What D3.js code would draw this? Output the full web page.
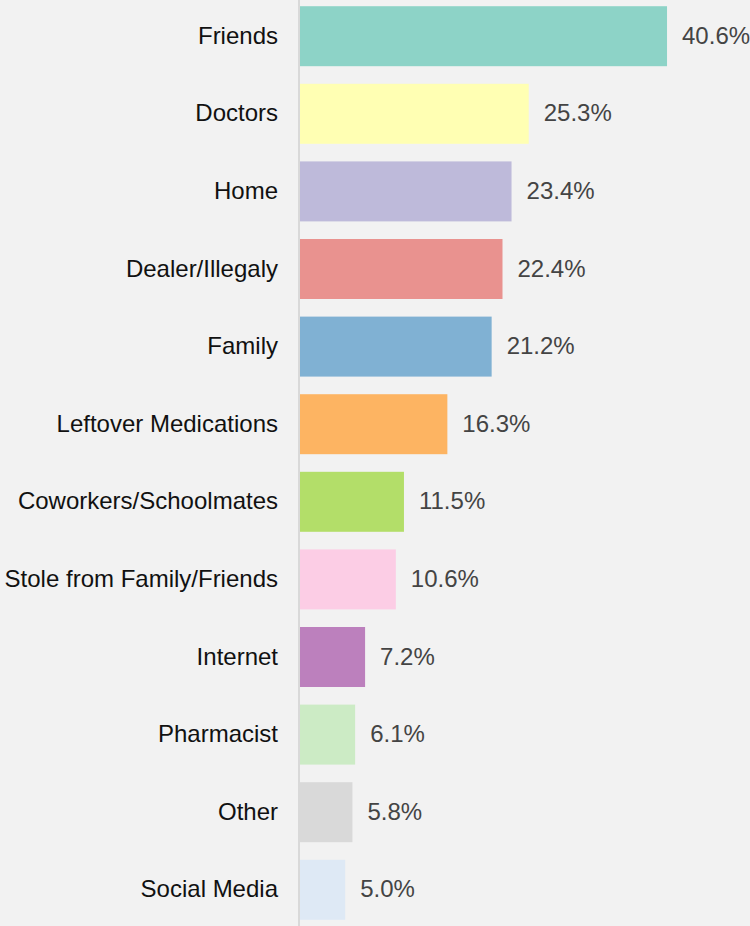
<!DOCTYPE html>
<html>
<head>
<meta charset="utf-8">
<script src="https://cdn.jsdelivr.net/npm/d3@7"></script>
<style>
  html, body { margin: 0; padding: 0; background: #f2f2f2; }
  svg { display: block; }
</style>
</head>
<body>
<svg id="chart"></svg>
<script>
// data
var categories = ["Friends", "Doctors", "Home", "Dealer/Illegaly", "Family", "Leftover Medications",
  "Coworkers/Schoolmates", "Stole from Family/Friends", "Internet", "Pharmacist", "Other", "Social Media"];
var values = [40.6, 25.3, 23.4, 22.4, 21.2, 16.3, 11.5, 10.6, 7.2, 6.1, 5.8, 5.0];
var colors = ["#8dd3c7", "#ffffb3", "#bebada", "#e9928f", "#80b1d3", "#fdb462",
  "#b3de69", "#fccde5", "#bc80bd", "#ccebc5", "#d9d9d9", "#dee9f5"];

const width = 750, height = 926;
const axisX = 300;

var svg = d3.select("#chart").attr("width", width).attr("height", height);

svg.append("rect").attr("width", width).attr("height", height).attr("fill", "#f2f2f2");

var x = d3.scaleLinear().domain([0, 50]).range([axisX, 752]);
var y = d3.scaleBand().domain(categories).range([0, height]).paddingInner(0.227).paddingOuter(0.08);

var data = categories.map((c, i) => ({name: c, value: values[i], color: colors[i]}));

svg.selectAll("rect.bar").data(data).enter().append("rect")
  .attr("class", "bar")
  .attr("x", x(0))
  .attr("y", d => y(d.name))
  .attr("width", d => x(d.value) - x(0))
  .attr("height", y.bandwidth())
  .attr("fill", d => d.color);

// vertical axis line, no ticks
var yAxis = d3.axisLeft(y).tickSize(0).tickPadding(21);
var gAxis = svg.append("g").attr("transform", "translate(" + (axisX - 1) + ",0)").call(yAxis);
gAxis.select(".domain").attr("stroke", "#d9d9d9").attr("stroke-width", 2).attr("d", "M0,0V" + height);
gAxis.selectAll("text")
  .attr("fill", "#111")
  .attr("font-family", "Liberation Sans, Arial, sans-serif")
  .attr("font-size", "24px")
  .attr("dy", "0.32em");

svg.selectAll("text.val").data(data).enter().append("text")
  .attr("class", "val")
  .attr("x", d => x(d.value) + 15)
  .attr("y", d => y(d.name) + y.bandwidth() / 2)
  .attr("dy", "0.32em")
  .attr("fill", "#444")
  .attr("font-family", "Liberation Sans, Arial, sans-serif")
  .attr("font-size", "24px")
  .text(d => d.value.toFixed(1) + "%");
</script>
</body>
</html>
